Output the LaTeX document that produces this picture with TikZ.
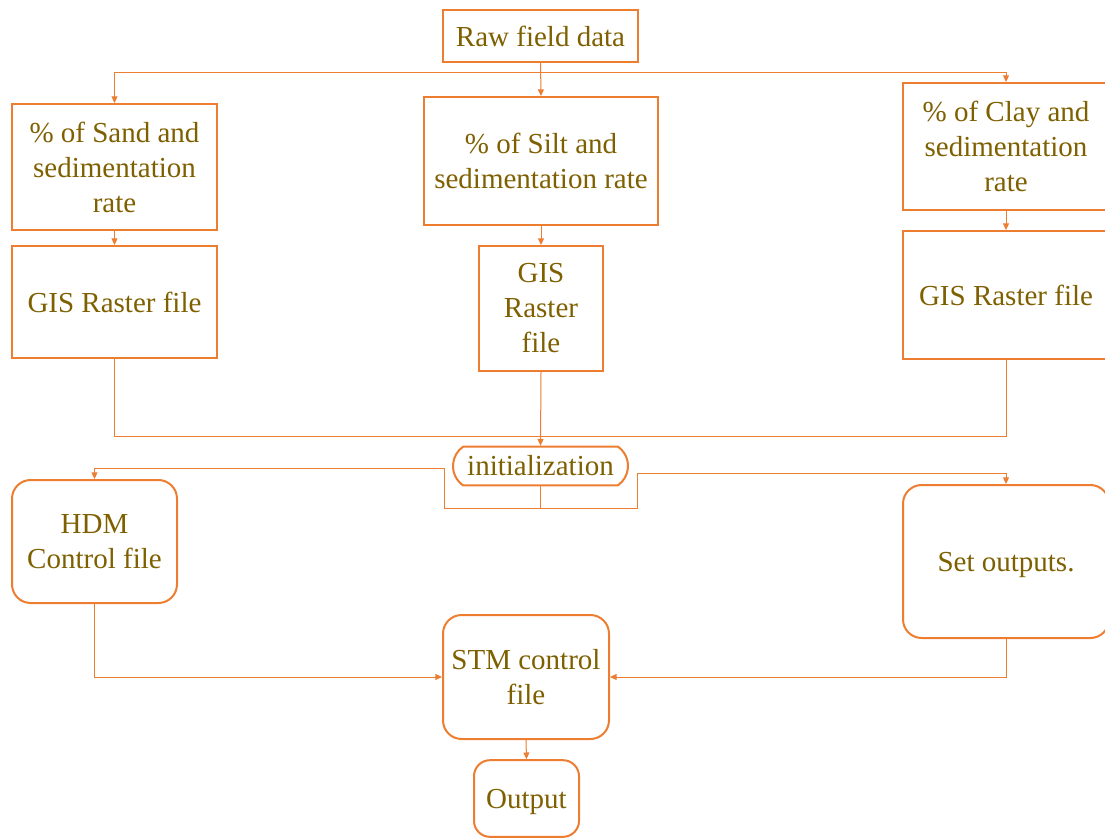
\documentclass[tikz,border=0pt]{standalone}
\usepackage{fontspec}
\setmainfont{Liberation Serif}
\usetikzlibrary{arrows.meta,shapes.misc}
\definecolor{lineorange}{HTML}{ED7D31}
\definecolor{txtbrown}{HTML}{7F6000}
\begin{document}
\begin{tikzpicture}[x=0.75pt,y=-0.75pt,
  box/.style={draw=lineorange,line width=1.5pt,fill=white,inner sep=0pt,align=center,
    text=txtbrown,font=\fontsize{21.75pt}{26.25pt}\selectfont},
  rbox/.style={box,rounded corners=14pt},
  conn/.style={draw=lineorange,line width=0.75pt},
  arr/.style={conn,-{Triangle[length=5pt,width=4.5pt]}}]
\useasboundingbox (0,0) rectangle (1105,839);
% nodes
\node[box,minimum width=146.25pt,minimum height=39pt] (raw) at (540.5,36) {Raw field data};
\node[box,minimum width=153.75pt,minimum height=94.5pt] (sand) at (114.5,167) {\% of Sand and\\sedimentation\\rate};
\node[box,minimum width=175.5pt,minimum height=96pt] (silt) at (541,161) {\% of Silt and\\sedimentation rate};
\node[box,minimum width=154.5pt,minimum height=95.25pt] (clay) at (1006,146.5) {\% of Clay and\\sedimentation\\rate};
\node[box,minimum width=153.75pt,minimum height=84pt] (gis1) at (114.5,302) {GIS Raster file};
\node[box,minimum width=93pt,minimum height=93.75pt] (gis2) at (541,308.5) {GIS\\Raster\\file};
\node[box,minimum width=154.5pt,minimum height=96pt] (gis3) at (1006,295) {GIS Raster file};
\node[box,rounded rectangle,rounded rectangle arc length=110,minimum width=131.25pt,minimum height=29pt] (init) at (540.5,466) {initialization};
\node[rbox,minimum width=123.75pt,minimum height=92.25pt] (hdm) at (94.5,541.5) {HDM\\Control file};
\node[rbox,text depth=0pt,minimum width=154.5pt,minimum height=114.75pt] (setout) at (1006,561.5) {Set outputs.};
\node[rbox,minimum width=124.5pt,minimum height=93pt] (stm) at (526,677) {STM control\\file};
\node[rbox,rounded corners=12pt,text depth=0pt,minimum width=78.75pt,minimum height=57.5pt] (output) at (526.5,798.5) {Output};
% helper coordinates
\coordinate (bus1) at (540.5,72);
\coordinate (bus2) at (541,436);
\coordinate (jl) at (444,508);
\coordinate (jr) at (637,508);
\coordinate (jlt) at (444,468);
\coordinate (jrt) at (637,473);
% connectors
\draw[arr] (raw.south) -- (silt.north);
\draw[conn] (bus1 -| sand.north) -- (bus1 -| clay.north);
\draw[arr] (bus1 -| sand.north) -- (sand.north);
\draw[arr] (bus1 -| clay.north) -- (clay.north);
\draw[arr] (sand.south) -- (gis1.north);
\draw[arr] (silt.south) -- (gis2.north);
\draw[arr] (clay.south) -- (gis3.north);
\draw[conn] (gis1.south) -- (gis1.south |- bus2) -- (gis3.south |- bus2) -- (gis3.south);
\draw[arr] (gis2.south) -- (init.north);
\draw[conn] (init.south) -- (init.south |- jl);
\draw[conn] (jlt) -- (jl) -- (jr) -- (jrt);
\draw[arr] (jlt) -- (jlt -| hdm.north) -- (hdm.north);
\draw[arr] (jrt) -- (jrt -| setout.north) -- (setout.north);
\draw[arr] (hdm.south) |- (stm.west);
\draw[arr] (setout.south) |- (stm.east);
\draw[arr] (stm.south) -- (output.north);
\end{tikzpicture}
\end{document}
